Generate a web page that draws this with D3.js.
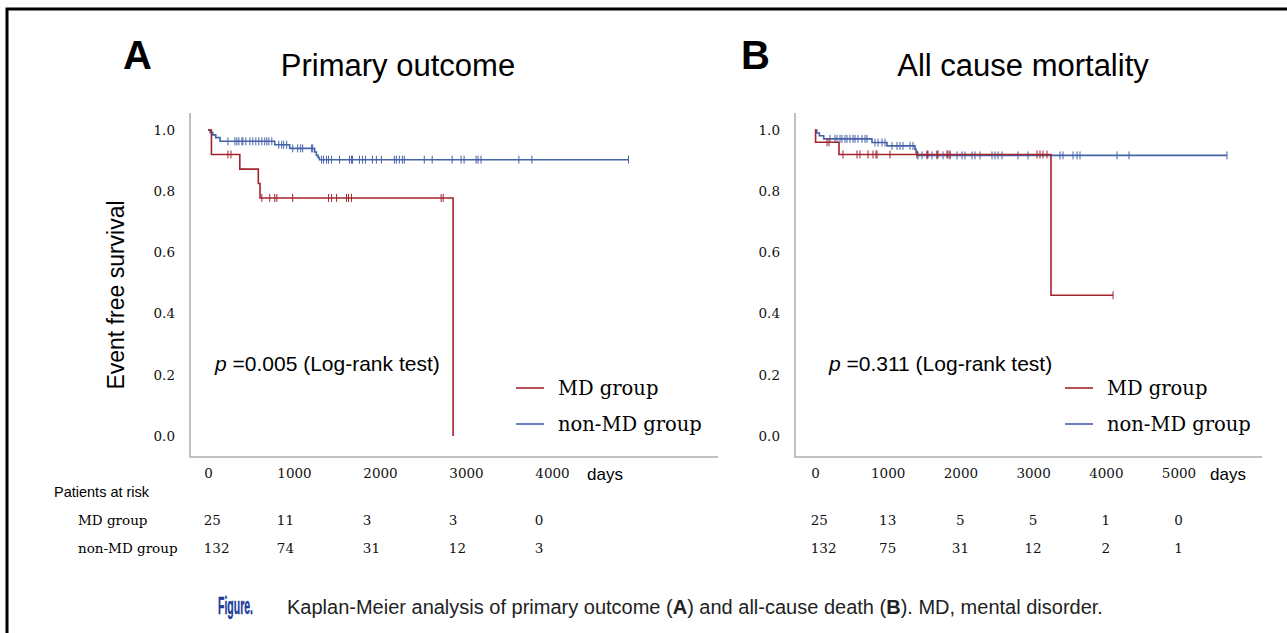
<!DOCTYPE html>
<html>
<head>
<meta charset="utf-8">
<script src="https://cdn.jsdelivr.net/npm/d3@7"></script>
<style>
  body { margin: 0; background: #fff; }
  svg { display: block; }
</style>
</head>
<body>
<div id="chart"></div>
<script>
// ---- data ----
var groups = ["MD group", "non-MD group"];
var survTicks = [0, 0.2, 0.4, 0.6, 0.8, 1.0];
var dayTicksA = [0, 1000, 2000, 3000, 4000];
var dayTicksB = [0, 1000, 2000, 3000, 4000, 5000];

// panel A: primary outcome (event times + survival after each step, censor days)
var mdA_t = [0, 40, 370, 585, 605, 2850];
var mdA_s = [1, 0.92, 0.872, 0.825, 0.778, 0];
var mdA_cens = [232, 267, 626, 718, 776, 800, 985, 1402, 1437, 1495, 1611, 1634, 1669, 2711, 2735];

var nonA_t = [0, 25, 55, 90, 140, 776, 950, 1240, 1260, 1280, 1295];
var nonA_s = [1, 0.992, 0.984, 0.975, 0.963, 0.952, 0.94, 0.928, 0.917, 0.91, 0.903];
var nonA_cens = [232, 313, 336, 359, 394, 406, 440, 487, 521, 556, 591, 626, 660, 684, 707, 742,
  823, 857, 880, 915, 985, 1043, 1078, 1101, 1205, 1217,
  1321, 1344, 1379, 1402, 1437, 1530, 1645, 1669, 1680, 1761, 1796, 1831, 1912, 1958, 2016,
  2167, 2190, 2225, 2260, 2283, 2515, 2607, 2839, 2943, 2978, 3117, 3140, 3175, 3615, 3766, 4890];

// panel B: all cause mortality
var mdB_t = [0, 8, 330, 3246];
var mdB_s = [1, 0.96, 0.92, 0.46];
var mdB_cens = [165, 193, 385, 578, 619, 729, 798, 839, 853, 1032, 1403, 1541, 1554, 1678, 1692,
  1816, 1829, 1857, 3054, 3095, 3136, 3191, 4100];

var nonB_t = [0, 25, 60, 120, 784, 990, 1375, 1390, 1405];
var nonB_s = [1, 0.99, 0.981, 0.971, 0.959, 0.948, 0.937, 0.927, 0.917];
var nonB_cens = [206, 275, 303, 344, 371, 413, 440, 481, 523, 550, 591, 646, 688, 715,
  825, 867, 922, 963, 1059, 1128, 1169, 1210, 1307, 1348,
  1417, 1472, 1541, 1609, 1678, 1761, 1857, 1953, 2022, 2063, 2160, 2201, 2270, 2435, 2476,
  2517, 2572, 2792, 2930, 3370, 3411, 3549, 3604, 3645, 4154, 4319, 5667];

// patients at risk
var riskA_md = [25, 11, 3, 3, 0];
var riskA_non = [132, 74, 31, 12, 3];
var riskB_md = [25, 13, 5, 5, 1, 0];
var riskB_non = [132, 75, 31, 12, 2, 1];

var red = "#a3242c";
var blue = "#4562aa";
var serif = "'DejaVu Serif', 'Liberation Serif', serif";
var sans = "'Liberation Sans', Arial, sans-serif";

var svg = d3.select("#chart").append("svg")
  .attr("width", 1287)
  .attr("height", 633);

// outer frame (top + left edges visible)
svg.append("path")
  .attr("d", "M7,633 V9 H1287")
  .attr("fill", "none")
  .attr("stroke", "#000")
  .attr("stroke-width", 3);

var panels = [
  { letter: "A", title: "Primary outcome", letterX: 123, titleX: 398,
    left: 190, right: 718, x0: 208, x1: 552, ticks: dayTicksA, daysX: 587,
    pText: "0.005", pX: 215, legX: 516, riskMd: riskA_md, riskNon: riskA_non, riskAlign: "left",
    curves: [
      { t: nonA_t, s: nonA_s, c: nonA_cens, color: blue },
      { t: mdA_t, s: mdA_s, c: mdA_cens, color: red }
    ] },
  { letter: "B", title: "All cause mortality", letterX: 741, titleX: 1023,
    left: 795, right: 1262, x0: 815, x1: 1178.5, ticks: dayTicksB, daysX: 1210,
    pText: "0.311", pX: 829, legX: 1065, riskMd: riskB_md, riskNon: riskB_non, riskAlign: "center",
    curves: [
      { t: nonB_t, s: nonB_s, c: nonB_cens, color: blue },
      { t: mdB_t, s: mdB_s, c: mdB_cens, color: red }
    ] }
];

var plotTop = 113, plotBottom = 457;
var y = d3.scaleLinear().domain([0, 1]).range([436, 130]);

panels.forEach(function (p) {
  var x = d3.scaleLinear()
    .domain([0, p.ticks[p.ticks.length - 1]])
    .range([p.x0, p.x1]);

  var g = svg.append("g");

  // titles
  g.append("text")
    .attr("x", p.letterX).attr("y", 69)
    .attr("font-family", sans).attr("font-weight", "bold").attr("font-size", 40)
    .text(p.letter);
  g.append("text")
    .attr("x", p.titleX).attr("y", 76)
    .attr("text-anchor", "middle")
    .attr("font-family", sans).attr("font-size", 31)
    .text(p.title);

  // plot frame (left + bottom)
  g.append("path")
    .attr("d", "M" + p.left + "," + plotTop + " V" + plotBottom + " H" + p.right)
    .attr("fill", "none")
    .attr("stroke", "#adadad")
    .attr("stroke-width", 1.5);

  // axes, labels only
  var yAxis = g.append("g")
    .attr("transform", "translate(" + p.left + ",0)")
    .call(d3.axisLeft(y).tickValues(survTicks).tickFormat(d3.format(".1f")).tickSize(0).tickPadding(15));
  var xAxis = g.append("g")
    .attr("transform", "translate(0," + plotBottom + ")")
    .call(d3.axisBottom(x).tickValues(p.ticks).tickFormat(d3.format("d")).tickSize(0).tickPadding(11));
  [yAxis, xAxis].forEach(function (a) {
    a.select(".domain").remove();
    a.selectAll("text")
      .attr("font-family", serif)
      .attr("font-size", 13.5)
      .attr("fill", "#111");
  });

  g.append("text")
    .attr("x", p.daysX).attr("y", 480)
    .attr("font-family", sans).attr("font-size", 17)
    .text("days");

  // survival curves
  var line = d3.line()
    .x(function (d) { return x(d[0]); })
    .y(function (d) { return y(d[1]); })
    .curve(d3.curveStepAfter);

  p.curves.forEach(function (cv) {
    var pts = cv.t.map(function (t, i) { return [t, cv.s[i]]; });
    var lastC = d3.max(cv.c);
    var lastT = cv.t[cv.t.length - 1];
    if (lastC > lastT) pts.push([lastC, cv.s[cv.s.length - 1]]);

    g.append("path")
      .datum(pts)
      .attr("d", line)
      .attr("fill", "none")
      .attr("stroke", cv.color)
      .attr("stroke-width", 1.6);

    var survAt = function (d) {
      var i = d3.bisectRight(cv.t, d) - 1;
      return cv.s[Math.max(0, i)];
    };

    g.append("g").selectAll("line")
      .data(cv.c)
      .enter().append("line")
      .attr("x1", function (d) { return x(d); })
      .attr("x2", function (d) { return x(d); })
      .attr("y1", function (d) { return y(survAt(d)) - 4; })
      .attr("y2", function (d) { return y(survAt(d)) + 4; })
      .attr("stroke", cv.color)
      .attr("stroke-width", 1);
  });

  // p-value
  var pt = g.append("text")
    .attr("x", p.pX).attr("y", 371)
    .attr("font-family", sans).attr("font-size", 21);
  pt.append("tspan").attr("font-style", "italic").text("p");
  pt.append("tspan").text(" =" + p.pText + " (Log-rank test)");

  // legend
  var leg = g.append("g");
  [red, blue].forEach(function (col, i) {
    var ly = 388 + i * 36;
    leg.append("line")
      .attr("x1", p.legX).attr("x2", p.legX + 28)
      .attr("y1", ly).attr("y2", ly)
      .attr("stroke", col).attr("stroke-width", 1.6);
    leg.append("text")
      .attr("x", p.legX + 42).attr("y", ly + 7)
      .attr("font-family", serif).attr("font-size", 19.5)
      .text(groups[i]);
  });

  // patients at risk numbers
  var tickText = xAxis.selectAll(".tick text").nodes();
  [p.riskMd, p.riskNon].forEach(function (row, r) {
    g.append("g").selectAll("text")
      .data(row)
      .enter().append("text")
      .attr("x", function (d, i) {
        if (p.riskAlign === "left" || i === 0) {
          var w = tickText[i].getComputedTextLength();
          return x(p.ticks[i]) - w / 2;
        }
        return x(p.ticks[i]);
      })
      .attr("text-anchor", function (d, i) {
        return (p.riskAlign === "left" || i === 0) ? "start" : "middle";
      })
      .attr("y", 525 + r * 28)
      .attr("font-family", serif).attr("font-size", 13.5)
      .attr("fill", "#111")
      .text(function (d) { return d; });
  });
});

// y axis title
svg.append("text")
  .attr("transform", "translate(124,295) rotate(-90)")
  .attr("text-anchor", "middle")
  .attr("font-family", sans).attr("font-size", 23)
  .text("Event free survival");

// at-risk row labels
svg.append("text")
  .attr("x", 54).attr("y", 497)
  .attr("font-family", sans).attr("font-size", 14.5)
  .text("Patients at risk");
groups.forEach(function (gname, i) {
  svg.append("text")
    .attr("x", 78).attr("y", 525 + i * 28)
    .attr("font-family", serif).attr("font-size", 13.5)
    .text(gname);
});

// caption
svg.append("text")
  .attr("x", 218).attr("y", 614)
  .attr("font-family", sans)
  .attr("font-weight", "bold").attr("font-size", 23)
  .attr("textLength", 35).attr("lengthAdjust", "spacingAndGlyphs")
  .attr("fill", "#1b3c98")
  .attr("stroke", "#1b3c98").attr("stroke-width", 0.4)
  .text("Figure.");
var cap = svg.append("text")
  .attr("x", 287).attr("y", 614)
  .attr("font-family", sans).attr("font-size", 20)
  .attr("fill", "#222");
cap.append("tspan").text("Kaplan-Meier analysis of primary outcome (");
cap.append("tspan").attr("font-weight", "bold").text("A");
cap.append("tspan").text(") and all-cause death (");
cap.append("tspan").attr("font-weight", "bold").text("B");
cap.append("tspan").text("). MD, mental disorder.");
</script>
</body>
</html>
